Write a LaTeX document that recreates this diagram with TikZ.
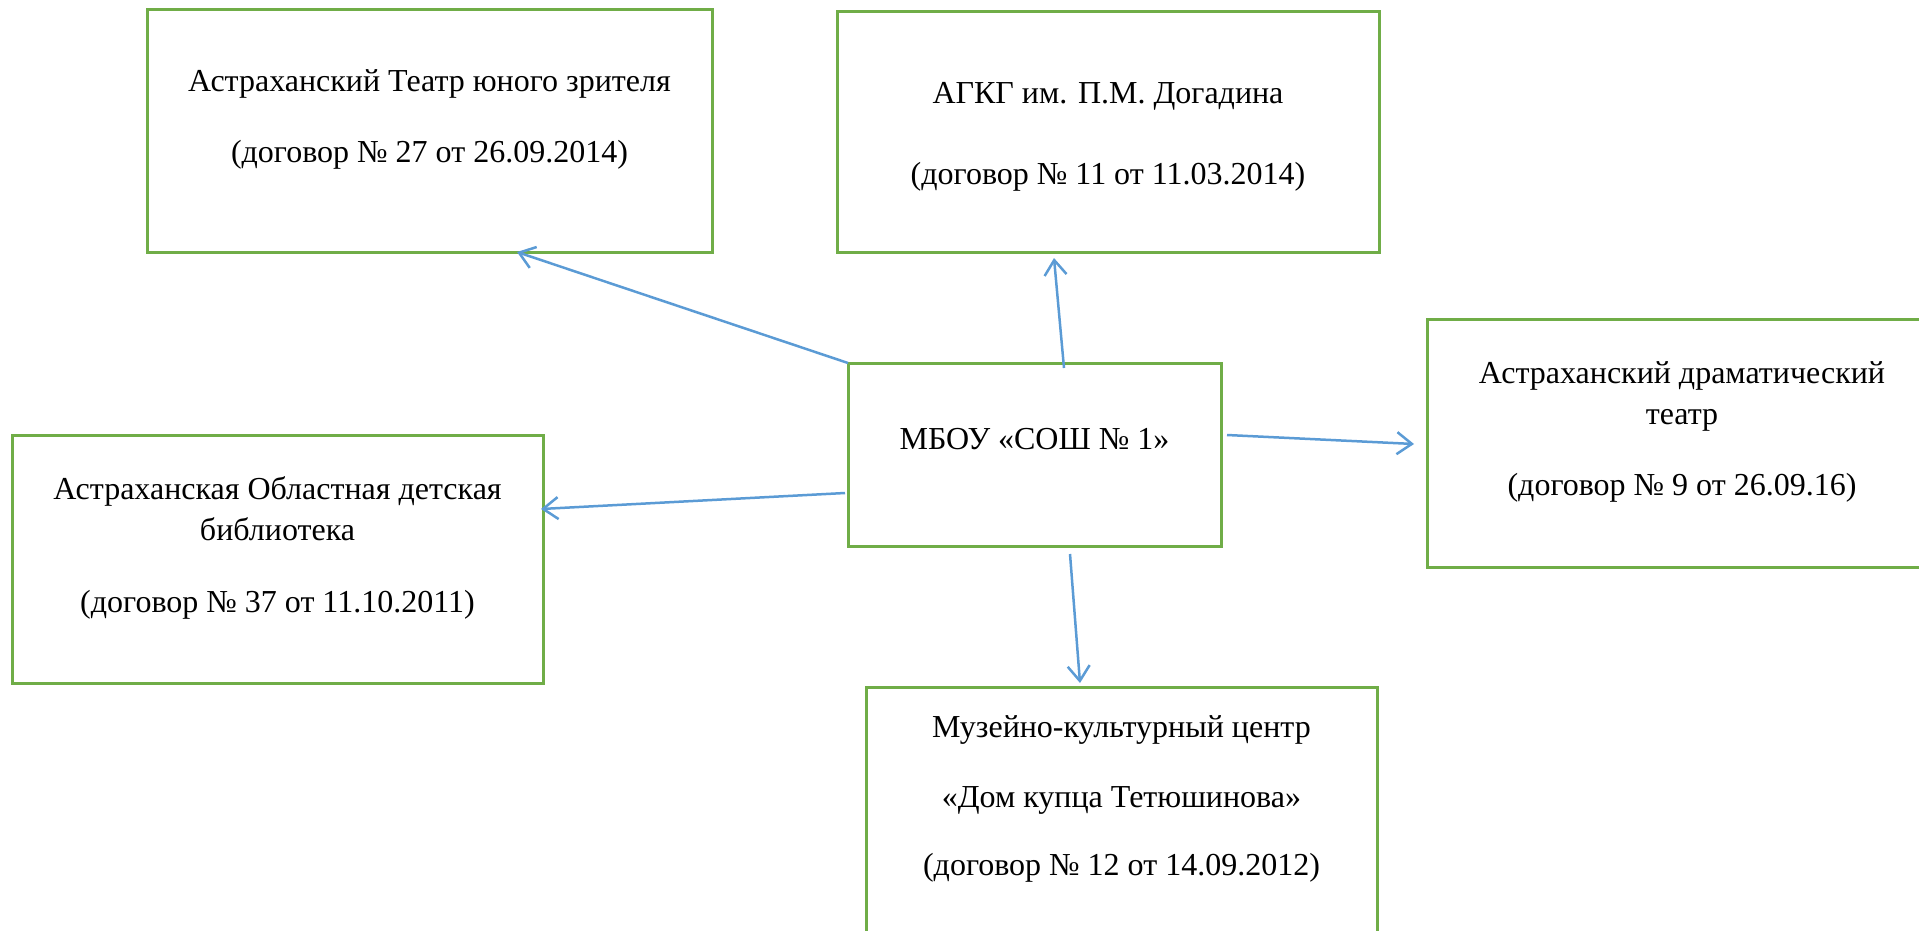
\documentclass[tikz,border=0pt]{standalone}
\usepackage{fontspec}
\setmainfont{Liberation Serif}
\usepackage{tikz}
\usetikzlibrary{calc,arrows.meta}
\definecolor{boxgreen}{HTML}{70AD47}
\definecolor{lineblue}{HTML}{5B9BD5}
\newcommand{\conn}[2]{\draw[link] (#1) -- (#2);}

\begin{document}
\begin{tikzpicture}[x=1pt,y=-1pt,
		box/.style={draw=boxgreen,line width=3pt,rectangle,outer sep=0pt},
		txt/.style={align=center,anchor=base,inner sep=0pt,font=\fontsize{32}{41}\selectfont},
		link/.style={draw=lineblue,line width=2.5pt,-{Straight Barb[length=15pt,width=22pt]}}]
			\useasboundingbox (0,0) rectangle (1919,931);
			
			\node[box,minimum width=565,minimum height=242](tyuz) at (429.5,131) {};
			\node[box,minimum width=542,minimum height=240](agkg) at (1108,132) {};
			\node[box,minimum width=373,minimum height=183](mbou) at (1034.5,454.5) {};
			\node[box,minimum width=531,minimum height=248](lib) at (277.5,559) {};
			\node[box,minimum width=510,minimum height=248](drama) at (1682,443) {};
			\node[box,minimum width=511,minimum height=273](museum) at (1121.5,823.5) {};
			
			% base anchor sits on the last line
			\node[txt](tyuz-t) at (429.5,162) {Астраханский Театр юного зрителя\\[30pt](договор № 27 от 26.09.2014)};
			\node[txt](agkg-t) at (1108,184) {АГКГ им. П.М. Догадина\\[40pt](договор № 11 от 11.03.2014)};
			\node[txt](mbou-t) at (1034.5,449) {МБОУ «СОШ № 1»};
			\node[txt](lib-t) at (277.5,612) {Астраханская Областная детская\\библиотека\\[31pt](договор № 37 от 11.10.2011)};
			\node[txt](drama-t) at (1682,495) {Астраханский драматический\\театр\\[30pt](договор № 9 от 26.09.16)};
			\node[txt](museum-t) at (1121.5,875) {Музейно-культурный центр\\[29pt]«Дом купца Тетюшинова»\\[27pt](договор № 12 от 14.09.2012)};
			
			\conn{mbou.north west}{[xshift=87.5pt]tyuz.south}
			\conn{[xshift=29.5pt,yshift=-5pt]mbou.north}{[xshift=-54pt,yshift=-6pt]agkg.south}
			\conn{[xshift=6pt,yshift=19.5pt]mbou.east}{[xshift=-13pt,yshift=-1pt]drama.west}
			\conn{[xshift=35.5pt,yshift=-8pt]mbou.south}{[xshift=-41.5pt,yshift=4pt]museum.north}
			\conn{[xshift=-3pt,yshift=-38.5pt]mbou.west}{[xshift=-2pt,yshift=50pt]lib.east}
		\end{tikzpicture}
\end{document}
